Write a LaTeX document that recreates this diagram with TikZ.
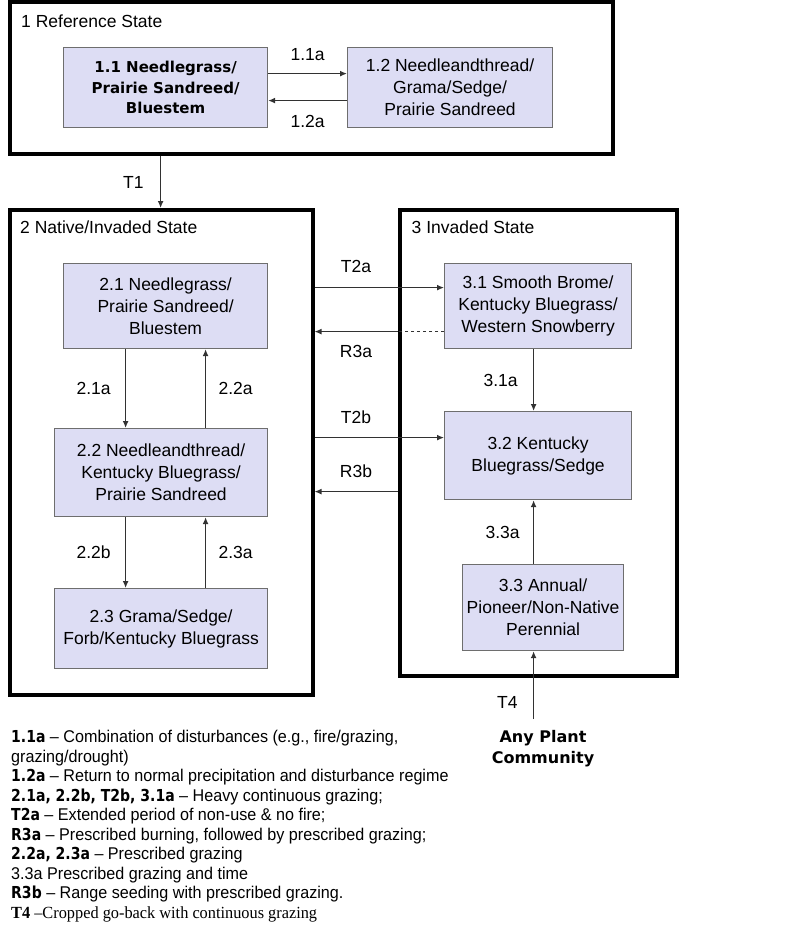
\documentclass[tikz,border=0pt]{standalone}
\usepackage{fontspec}
\setmainfont{Liberation Sans}
\newfontfamily\widebold{DejaVu Sans}
\newfontfamily\keyfont[FakeStretch=0.85]{DejaVu Sans}
\newfontfamily\narrowfont[FakeStretch=0.95]{Liberation Sans}
\newfontfamily\narrowserif[FakeStretch=0.96]{Liberation Serif}
\usetikzlibrary{arrows.meta, positioning}
\definecolor{boxfill}{RGB}{221,221,244}
\definecolor{boxline}{RGB}{110,110,110}
\definecolor{arrowgray}{RGB}{50,50,50}
\newcommand{\keyterm}[1]{{\keyfont\bfseries\fontsize{16.5}{19.5}\selectfont #1}}

\begin{document}
\begin{tikzpicture}[
          x = 1pt, y = -1pt,
          > = {Latex[length=7pt,width=6pt]},
       font = \fontsize{17.5}{22}\selectfont,
statebox/.style = {draw=black, line width=4pt, anchor=north west, inner sep=0pt},
plantbox/.style = {draw=boxline, fill=boxfill, line width=1.2pt, anchor=north west,
                   align=center, inner sep=0pt},
   trans/.style = {->, draw=arrowgray, line width=1.3pt},
   title/.style = {anchor=west, inner sep=0pt}
                    ]
\useasboundingbox (0,0) rectangle (800,931);
% states
    \node[statebox, minimum width=603, minimum height=152] (s1) at (8,0) {};
    \node[statebox, minimum width=302.5, minimum height=485] (s2) at (8,208) {};
    \node[statebox, minimum width=277.5, minimum height=466] (s3) at (397.5,208) {};
    \node[title] (s1title) at ([xshift=13pt, yshift=-21pt]s1.north west) {1 Reference State};
    \node[title] (s2title) at ([xshift=12pt, yshift=-19pt]s2.north west) {2 Native/Invaded State};
    \node[title] (s3title) at ([xshift=14pt, yshift=-19pt]s3.north west) {3 Invaded State};
% plant communities
    \node[plantbox, minimum width=204, minimum height=80,
          font=\widebold\bfseries\fontsize{15}{20.5}\selectfont] (n11) at (63,47)
          {1.1 Needlegrass/\\Prairie Sandreed/\\Bluestem};
    \node[plantbox, minimum width=205, minimum height=80] (n12) at (347,47)
          {1.2 Needleandthread/\\Grama/Sedge/\\Prairie Sandreed};
    \node[plantbox, minimum width=204, minimum height=85] (n21) at (63,263)
          {2.1 Needlegrass/\\Prairie Sandreed/\\Bluestem};
    \node[plantbox, minimum width=213, minimum height=88] (n22) at (54,428)
          {2.2 Needleandthread/\\Kentucky Bluegrass/\\Prairie Sandreed};
    \node[plantbox, minimum width=213, minimum height=80] (n23) at (54,588)
          {2.3 Grama/Sedge/\\Forb/Kentucky Bluegrass};
    \node[plantbox, minimum width=187, minimum height=85] (n31) at (444,263)
          {3.1 Smooth Brome/\\Kentucky Bluegrass/\\Western Snowberry};
    \node[plantbox, minimum width=187, minimum height=88] (n32) at (444,411)
          {3.2 Kentucky\\Bluegrass/Sedge};
    \node[plantbox, minimum width=161, minimum height=86] (n33) at (462,564)
          {3.3 Annual/\\Pioneer/Non-Native\\Perennial};
    \node[align=center, font=\widebold\bfseries\fontsize{16}{21}\selectfont] (anyplant) at (543,749)
          {Any Plant\\Community};
% pathways in state 1
    \draw[trans] ([yshift=14pt]n11.east) -- ([yshift=14pt]n12.west) node[midway, above=9pt] {1.1a};
    \draw[trans] ([yshift=-13pt]n12.west) -- ([yshift=-13pt]n11.east) node[midway, below=11pt] {1.2a};
% transitions
    \coordinate (t1) at ([xshift=-5pt]n11.south |- s1.south);
    \draw[trans] (t1) -- (t1 |- s2.north) node[midway, left=13pt] {T1};
    \coordinate (t2a) at ([yshift=18.5pt]n31.west);
    \draw[trans] (t2a -| s2.east) -- (t2a) node[pos=0.32, above=11pt] {T2a};
    \coordinate (r3a) at ([yshift=-25.5pt]n31.west);
    \draw[trans, -, dashed] (r3a) -- (r3a -| s3.west);
    \draw[trans] (r3a -| s3.west) -- (r3a -| s2.east) node[midway, below=10pt] {R3a};
    \coordinate (t2b) at ([yshift=18pt]n32.west);
    \draw[trans] (t2b -| s2.east) -- (t2b) node[pos=0.32, above=10pt] {T2b};
    \coordinate (r3b) at ([yshift=-36pt]n32.west);
    \draw[trans] (r3b -| s3.west) -- (r3b -| s2.east) node[midway, above=10pt] {R3b};
% pathways in state 2
    \coordinate (p2l) at ([xshift=-40pt]n21.south);
    \coordinate (p2r) at ([xshift=40pt]n21.south);
    \draw[trans] (p2l) -- (p2l |- n22.north) node[midway, left=11pt] {2.1a};
    \draw[trans] (p2r |- n22.north) -- (p2r) node[midway, right=9pt] {2.2a};
    \draw[trans] (p2l |- n22.south) -- (p2l |- n23.north) node[midway, left=11pt] {2.2b};
    \draw[trans] (p2r |- n23.north) -- (p2r |- n22.south) node[midway, right=9pt] {2.3a};
% pathways in state 3
    \coordinate (p3) at ([xshift=-4.5pt]n31.south);
    \draw[trans] (p3) -- (p3 |- n32.north) node[midway, left=12pt] {3.1a};
    \draw[trans] (p3 |- n33.north) -- (p3 |- n32.south) node[midway, left=10pt] {3.3a};
    \draw[trans, shorten <=8pt] (p3 |- anyplant.north) -- (p3 |- n33.south) node[pos=0.32, left=12pt] {T4};
% key
    \node[anchor=north west, align=left, inner sep=0pt,
          font=\narrowfont\fontsize{17}{19.5}\selectfont] (key) at (11,730) {%
\keyterm{1.1a} – Combination of disturbances (e.g., fire/grazing,\\
grazing/drought)\\
\keyterm{1.2a} – Return to normal precipitation and disturbance regime\\
\keyterm{2.1a, 2.2b, T2b, 3.1a} – Heavy continuous grazing;\\
\keyterm{T2a} – Extended period of non-use \& no fire;\\
\keyterm{R3a} – Prescribed burning, followed by prescribed grazing;\\
\keyterm{2.2a, 2.3a} – Prescribed grazing\\
3.3a Prescribed grazing and time\\
\keyterm{R3b} – Range seeding with prescribed grazing.\\
{\narrowserif\textbf{T4} –Cropped go-back with continuous grazing}};
\end{tikzpicture}
\end{document}
